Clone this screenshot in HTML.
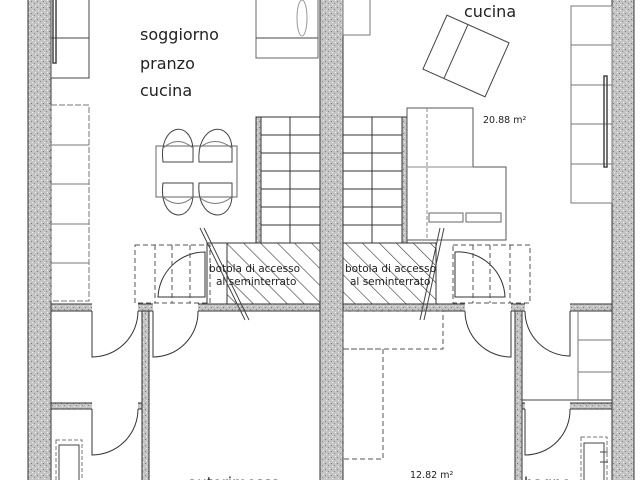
<!DOCTYPE html>
<html><head><meta charset="utf-8"><style>
html,body{margin:0;padding:0;background:#fff;width:640px;height:480px;overflow:hidden}
svg{display:block}
text{font-family:"DejaVu Sans","Liberation Sans",sans-serif;fill:#222}
</style></head><body>
<svg width="640" height="480" viewBox="0 0 640 480" xmlns="http://www.w3.org/2000/svg">
<defs>
<pattern id="sp" width="6" height="6" patternUnits="userSpaceOnUse">
<rect width="6" height="6" fill="#c4c4c4"/>
<rect x="1" y="1" width="1" height="1" fill="#777"/><rect x="4" y="3" width="1" height="1" fill="#888"/>
<rect x="2" y="4" width="1" height="1" fill="#eee"/><rect x="5" y="0" width="1" height="1" fill="#eee"/>
</pattern>
<pattern id="hat" width="12" height="12" patternUnits="userSpaceOnUse" patternTransform="rotate(-45)">
<rect width="12" height="12" fill="#fff"/><line x1="0" y1="0" x2="0" y2="12" stroke="#333" stroke-width="1.2"/>
</pattern>
</defs>
<g stroke="#333" stroke-width="1">
<rect x="28" y="-2" width="23" height="484" fill="url(#sp)"/>
<rect x="612" y="-2" width="22" height="484" fill="url(#sp)"/>
<rect x="320" y="-2" width="23" height="484" fill="url(#sp)"/>
<rect x="51" y="304" width="269" height="7" fill="url(#sp)"/>
<rect x="343" y="304" width="269" height="7" fill="url(#sp)"/>
<rect x="142" y="311" width="7" height="171" fill="url(#sp)"/>
<rect x="51" y="403" width="91" height="6" fill="url(#sp)"/>
<rect x="515" y="311" width="7" height="171" fill="url(#sp)"/>
<rect x="522" y="403" width="90" height="6" fill="url(#sp)"/>
<rect x="256" y="117" width="5" height="128" fill="url(#sp)"/>
<rect x="402" y="117" width="5" height="128" fill="url(#sp)"/>
</g>
<g fill="#fff">
<rect x="92" y="303" width="46" height="9"/><rect x="153" y="303" width="45" height="9"/>
<rect x="92" y="402" width="46" height="8"/>
<rect x="465" y="303" width="46" height="9"/><rect x="525" y="303" width="45" height="9"/>
<rect x="525" y="402" width="45" height="8"/>
</g>
<g fill="none" stroke="#333" stroke-width="1">
<path d="M92 311 V357 A46 46 0 0 0 138 311"/><path d="M153 311 V357 A45 45 0 0 0 198 311"/>
<path d="M92 409 V455 A46 46 0 0 0 138 409"/>
<path d="M465 311 A46 46 0 0 0 511 357 V311"/><path d="M525 311 A45 45 0 0 0 570 356 V311"/>
<path d="M525 409 V455 A45 45 0 0 0 570 409"/>
<path d="M205 252 A47 47 0 0 0 158 297 H205 Z"/>
<path d="M455 252 A47 47 0 0 1 505 297 H455 Z"/>
<rect x="261" y="117" width="59" height="187"/>
<line x1="290" y1="117" x2="290" y2="245"/>
<path d="M261 135H320M261 153H320M261 171H320M261 189H320M261 207H320M261 225H320"/>
<rect x="343" y="117" width="59" height="187"/>
<line x1="372" y1="117" x2="372" y2="245"/>
<path d="M343 135H402M343 153H402M343 171H402M343 189H402M343 207H402M343 225H402"/>
</g>
<rect x="227" y="243" width="93" height="61" fill="url(#hat)" stroke="#333"/>
<rect x="343" y="243" width="93" height="61" fill="url(#hat)" stroke="#333"/>
<rect x="207" y="243" width="20" height="61" fill="#fff" stroke="#333"/>
<g fill="none" stroke="#555" stroke-dasharray="5,3">
<rect x="135" y="245" width="75" height="58"/><path d="M155 245V303M172 245V303M190 245V303"/>
<rect x="453" y="245" width="77" height="58"/><path d="M473 245V303M490 245V303M510 245V303"/>
<rect x="343" y="311" width="100" height="38"/>
<rect x="343" y="349" width="40" height="110"/>
</g>
<g fill="none" stroke="#444" stroke-width="1">
<line x1="200" y1="228" x2="245" y2="320"/><line x1="204" y1="228" x2="249" y2="320"/>
<line x1="440" y1="228" x2="420" y2="320"/><line x1="444" y1="228" x2="424" y2="320"/>
<rect x="51" y="-1" width="38" height="79"/><line x1="51" y1="38" x2="89" y2="38"/>
<rect x="53" y="-1" width="3" height="64" stroke-width="1.5"/>
<rect x="51" y="105" width="38" height="196" stroke="#777" stroke-dasharray="6,2"/>
<path d="M51 145H89M51 184H89M51 224H89M51 263H89" stroke="#777"/>
<rect x="256" y="-1" width="62" height="59" stroke="#666"/><line x1="256" y1="38" x2="318" y2="38"/>
<ellipse cx="302" cy="18" rx="5" ry="18" stroke="#999"/>
<rect x="571" y="6" width="41" height="197" stroke="#777"/>
<path d="M571 45H612M571 85H612M571 124H612M571 164H612" stroke="#777"/>
<rect x="604" y="76" width="3" height="91" stroke-width="1.5"/>
<rect x="343" y="-1" width="27" height="36" stroke="#777"/>
<rect x="156" y="146" width="81" height="51" stroke="#666"/>
<path d="M163 162 C158 125 190 118 193 148 L193 162 Z"/><path d="M199 162 C196 125 230 118 232 148 L232 162 Z"/>
<path d="M163 183 C158 220 190 225 193 197 L193 183 Z"/><path d="M199 183 C196 220 230 225 232 197 L232 183 Z"/>
<path d="M163 148 Q178 135 193 148M199 148 Q215 135 232 148M163 197 Q178 210 193 197M199 197 Q215 210 232 197" stroke="#777"/>
<g transform="rotate(24 466 56)"><rect x="432" y="26.5" width="68" height="59"/><line x1="455" y1="26.5" x2="455" y2="85.5"/></g>
<path d="M407 108 H473 V167 H506 V240 H407 Z" stroke="#555"/>
<line x1="427" y1="108" x2="427" y2="240" stroke="#888" stroke-dasharray="4,2"/>
<line x1="407" y1="167" x2="473" y2="167" stroke="#888"/>
<path d="M429 213 h34 v9 h-34 z M466 213 h35 v9 h-35 z" stroke="#666"/>
<rect x="56" y="440" width="26" height="42" stroke="#777" stroke-dasharray="4,2"/>
<rect x="59" y="445" width="20" height="37"/>
<rect x="581" y="437" width="26" height="45" stroke="#777" stroke-dasharray="4,2"/>
<rect x="584" y="443" width="20" height="39"/>
<path d="M600 452h8M600 462h8"/>
<path d="M522 400H612" />
<path d="M578 311 V400 M578 340 H612 M578 372 H612" stroke="#777"/>
</g>
<text x="140" y="40" font-size="16">soggiorno</text>
<text x="140" y="69" font-size="16">pranzo</text>
<text x="140" y="96" font-size="16">cucina</text>
<text x="464" y="17" font-size="16">cucina</text>
<text x="483" y="123" font-size="9.5">20.88 m²</text>
<text x="410" y="478" font-size="9.5">12.82 m²</text>
<text x="209" y="272" font-size="10.5" fill="#333">botola di accesso</text>
<text x="216" y="285" font-size="10.5">al seminterrato</text>
<text x="345" y="272" font-size="10.5">botola di accesso</text>
<text x="350" y="285" font-size="10.5">al seminterrato</text>
<text x="524" y="488" font-size="15">bagno</text>
<text x="188" y="488" font-size="15">autorimessa</text>
</svg>
</body></html>
